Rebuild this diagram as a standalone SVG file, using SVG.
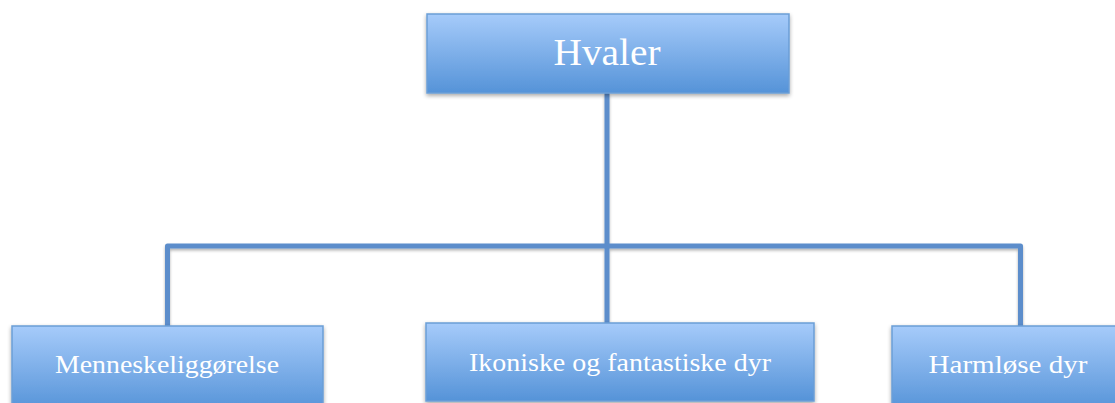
<svg xmlns="http://www.w3.org/2000/svg" width="1115" height="403" viewBox="0 0 1115 403">
<defs>
<linearGradient id="g" x1="0" y1="0" x2="0" y2="1">
<stop offset="0" stop-color="#a6cbfa"/>
<stop offset="1" stop-color="#5593d8"/>
</linearGradient>
<filter id="sh" x="-5%" y="-10%" width="110%" height="130%">
<feGaussianBlur in="SourceAlpha" stdDeviation="2"/>
<feOffset dx="0" dy="2" result="b"/>
<feComponentTransfer><feFuncA type="linear" slope="0.35"/></feComponentTransfer>
<feMerge><feMergeNode/><feMergeNode in="SourceGraphic"/></feMerge>
</filter>
<filter id="shc" filterUnits="userSpaceOnUse" x="0" y="0" width="1115" height="403">
<feGaussianBlur in="SourceAlpha" stdDeviation="1.5"/>
<feOffset dx="0" dy="2" result="b"/>
<feComponentTransfer><feFuncA type="linear" slope="0.3"/></feComponentTransfer>
<feMerge><feMergeNode/><feMergeNode in="SourceGraphic"/></feMerge>
</filter>
</defs>
<style>
.box{fill:url(#g);stroke:#6b9ed6;stroke-width:1.5;filter:url(#sh)}
.t{font-family:"Liberation Serif",serif;fill:#ffffff;text-anchor:middle}
.c{fill:none;stroke:#5b8dcb;stroke-width:5;stroke-linejoin:round}
</style>
<rect width="1115" height="403" fill="#ffffff"/>
<g id="connectors" filter="url(#shc)">
<path class="c" d="M607 93 V323"/>
<path class="c" d="M167.5 326 V246 H1020.5 V326"/>
</g>
<g id="node-hvaler">
<rect class="box" x="427" y="14" width="362" height="79"/>
<text class="t" x="607" y="65" font-size="38" textLength="107" lengthAdjust="spacingAndGlyphs">Hvaler</text>
</g>
<g id="node-menneskeliggorelse">
<rect class="box" x="12" y="326" width="311" height="85"/>
<text class="t" x="167" y="373" font-size="25" textLength="224" lengthAdjust="spacingAndGlyphs">Menneskeliggørelse</text>
</g>
<g id="node-ikoniske">
<rect class="box" x="426" y="323" width="388" height="78"/>
<text class="t" x="620" y="371" font-size="25" textLength="302" lengthAdjust="spacingAndGlyphs">Ikoniske og fantastiske dyr</text>
</g>
<g id="node-harmlose">
<rect class="box" x="892" y="326" width="240" height="85"/>
<text class="t" x="1008" y="373" font-size="25" textLength="159" lengthAdjust="spacingAndGlyphs">Harmløse dyr</text>
</g>
</svg>
